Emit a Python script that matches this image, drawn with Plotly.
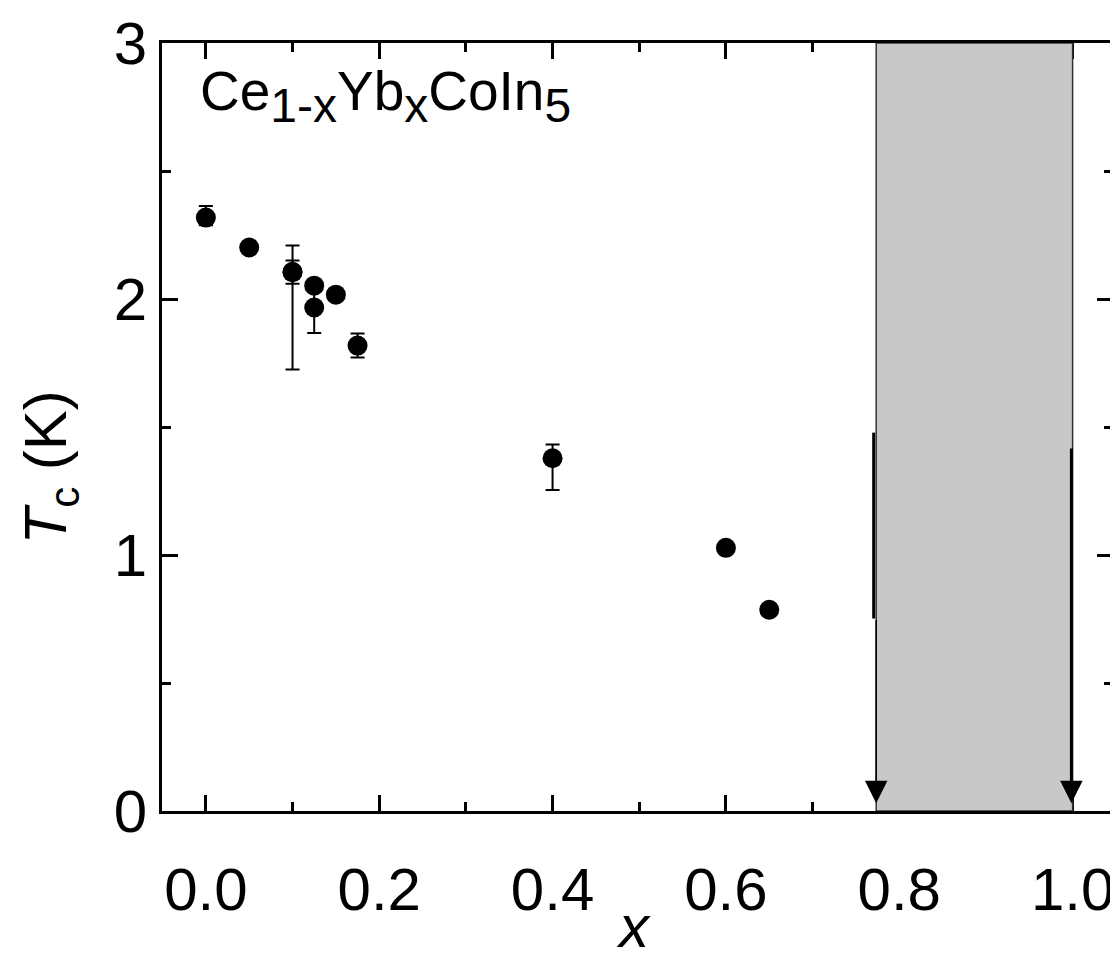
import plotly.graph_objects as go

# ---- data ----
x_vals = [0.0, 0.05, 0.10, 0.10, 0.125, 0.125, 0.15, 0.175, 0.40, 0.60, 0.65]
tc_vals = [2.318, 2.201, 2.105, 2.105, 2.052, 1.967, 2.017, 1.818, 1.378, 1.028, 0.786]
err_plus = [0.045, 0.0, 0.104, 0.045, 0.0, 0.10, 0.0, 0.047, 0.054, 0.0, 0.0]
err_minus = [0.03, 0.0, 0.38, 0.045, 0.0, 0.10, 0.0, 0.047, 0.124, 0.0, 0.0]

# upper-limit region (no superconductivity observed down to lowest T)
region_x = [0.7734, 1.0]
arrow_x = [0.7705, 0.9986]
arrow_top = [1.478, 1.422]
arrow_thick_bottom = [0.752, None]
arrow_tip = 0.03

x_ticks = [0.0, 0.2, 0.4, 0.6, 0.8, 1.0]
x_ticklabels = ["0.0", "0.2", "0.4", "0.6", "0.8", "1.0"]
y_ticks = [0, 1, 2, 3]
y_ticklabels = ["0", "1", "2", "3"]

FONT = "Liberation Sans, Arial, sans-serif"

fig = go.Figure()

fig.add_trace(go.Scatter(
    x=x_vals, y=tc_vals, mode="markers",
    marker=dict(symbol="circle", size=20, color="black"),
    error_y=dict(type="data", symmetric=False, array=err_plus, arrayminus=err_minus,
                 color="black", thickness=2, width=7),
    showlegend=False, hoverinfo="x+y",
))

# gray region
fig.add_shape(type="rect", xref="x", yref="y",
              x0=region_x[0], x1=region_x[1], y0=0, y1=3,
              fillcolor="#c8c8c8", line=dict(color="#333333", width=1.5), layer="above")

# thick arrow shaft (left)
fig.add_shape(type="line", xref="x", yref="y",
              x0=arrow_x[0], x1=arrow_x[0], y0=arrow_top[0], y1=arrow_thick_bottom[0],
              line=dict(color="black", width=3), layer="above")

# arrows (annotation arrows)
fig.add_annotation(x=region_x[0], y=arrow_tip, ax=region_x[0], ay=arrow_thick_bottom[0],
                   xref="x", yref="y", axref="x", ayref="y", text="",
                   showarrow=True, arrowhead=2, arrowwidth=1.5, arrowsize=3.0,
                   arrowcolor="black", standoff=0)
fig.add_annotation(x=arrow_x[1], y=arrow_tip, ax=arrow_x[1], ay=arrow_top[1],
                   xref="x", yref="y", axref="x", ayref="y", text="",
                   showarrow=True, arrowhead=2, arrowwidth=3, arrowsize=1.5,
                   arrowcolor="black", standoff=0)

# compound label
SUB = "<sub><span style='font-size:48px'>{}</span></sub>"
fig.add_annotation(
    text="Ce" + SUB.format("1-x") + "Yb" + SUB.format("x") + "CoIn" + SUB.format("5"),
    xref="paper", yref="paper", x=0.0377, y=0.981, xanchor="left", yanchor="top",
    showarrow=False, font=dict(family=FONT, size=55, color="black"))

# axis titles as annotations
fig.add_annotation(text="<i>x</i>", xref="paper", yref="paper", x=0.496, y=-0.150,
                   xanchor="center", yanchor="middle", showarrow=False,
                   font=dict(family=FONT, size=60, color="black"))
fig.add_annotation(text="<i>T</i><sub>c</sub> (K)", xref="paper", yref="paper",
                   x=-0.118, y=0.447, xanchor="center", yanchor="middle",
                   textangle=-90, showarrow=False,
                   font=dict(family=FONT, size=60, color="black"))

axis_common = dict(
    showline=True, linecolor="black", linewidth=3, mirror="allticks",
    ticks="inside", ticklen=16, tickwidth=3, tickcolor="black",
    showgrid=False, zeroline=False,
    tickfont=dict(family=FONT, size=60, color="black"),
)

fig.update_xaxes(range=[-0.0506, 1.0466], tickvals=x_ticks, ticktext=x_ticklabels,
                 minor=dict(ticks="inside", ticklen=9, tickwidth=3, tickcolor="black", dtick=0.1,
                            tick0=0, showgrid=False),
                 ticklabelstandoff=24, **axis_common)
fig.update_yaxes(range=[0, 3], tickvals=y_ticks, ticktext=y_ticklabels,
                 minor=dict(ticks="inside", ticklen=9, tickwidth=3, tickcolor="black", dtick=0.5,
                            tick0=0, showgrid=False),
                 ticklabelstandoff=0, **axis_common)

fig.update_layout(
    width=1110, height=952,
    margin=dict(l=154, r=2, t=33, b=149),
    paper_bgcolor="white", plot_bgcolor="white",
    font=dict(family=FONT, color="black"),
)

fig.write_html("out.html")
